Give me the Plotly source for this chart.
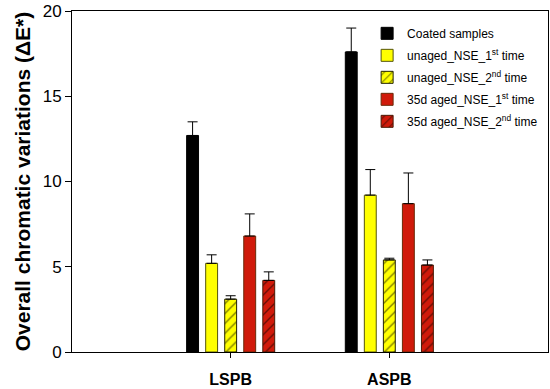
import plotly.graph_objects as go

categories = ["LSPB", "ASPB"]
cat_pos = [1, 2]
series_names = ["Coated samples", "unaged_NSE_1<sup>st</sup> time", "unaged_NSE_2<sup>nd</sup> time",
                "35d aged_NSE_1<sup>st</sup> time", "35d aged_NSE_2<sup>nd</sup> time"]
coated = [12.7, 17.6]
coated_err = [0.8, 1.4]
unaged_1 = [5.2, 9.2]
unaged_1_err = [0.5, 1.5]
unaged_2 = [3.1, 5.4]
unaged_2_err = [0.2, 0.1]
aged_1 = [6.8, 8.7]
aged_1_err = [1.3, 1.8]
aged_2 = [4.2, 5.1]
aged_2_err = [0.5, 0.3]

values = [coated, unaged_1, unaged_2, aged_1, aged_2]
errors = [coated_err, unaged_1_err, unaged_2_err, aged_1_err, aged_2_err]
fills = ["#000000", "#ffff00", "#ffff00", "#d01a0a", "#d01a0a"]
lines = ["#000000", "#55550a", "#222200", "#6a2a08", "#4a1a05"]
patterns = ["", "", "/", "", "/"]

fig = go.Figure()
for i, (name, v, e, fc, lc, p) in enumerate(zip(series_names, values, errors, fills, lines, patterns)):
    fig.add_trace(go.Bar(
        x=cat_pos, y=v, name=name, legendgroup=f"g{i}",
        marker=dict(color=fc, line=dict(color=lc, width=1),
                    pattern=dict(shape=p, fgcolor="#000000", bgcolor=fc, size=7, solidity=0.2)),
        error_y=dict(type="data", array=e, arrayminus=[0] * len(e), symmetric=False,
                     color="#000000", thickness=1, width=5),
    ))

fig.update_layout(
    width=550, height=389,
    margin=dict(l=72, r=2, t=11, b=37, autoexpand=False),
    barmode="group", bargap=0.4, bargroupgap=0.375,
    plot_bgcolor="white", paper_bgcolor="white",
    font=dict(family="Arial, Liberation Sans, sans-serif", color="#000000"),
    showlegend=True,
    legend=dict(x=0.62, y=0.977, xanchor="left", yanchor="top",
                font=dict(size=12), bgcolor="rgba(0,0,0,0)",
                traceorder="grouped", tracegroupgap=3),
)
fig.update_xaxes(
    range=[0, 3], tickmode="array", tickvals=cat_pos, ticktext=categories,
    tickfont=dict(size=16, weight="bold"), ticklabelstandoff=8,
    ticks="outside", ticklen=5, tickcolor="#000000", automargin=False,
    showline=True, linecolor="#000000", linewidth=1, mirror=True,
    showgrid=False, zeroline=False,
)
fig.update_yaxes(
    range=[0, 20], tickvals=[0, 5, 10, 15, 20],
    tickfont=dict(size=17), automargin=False,
    ticks="outside", ticklen=6, tickcolor="#000000",
    showline=True, linecolor="#000000", linewidth=1, mirror=True,
    showgrid=False, zeroline=False,
    title=dict(text="Overall chromatic variations (ΔE*)",
               font=dict(size=21, weight="bold"), standoff=6),
)
fig.write_html("out.html", config={"displayModeBar": False},
               post_script="document.body.style.margin='0';")
